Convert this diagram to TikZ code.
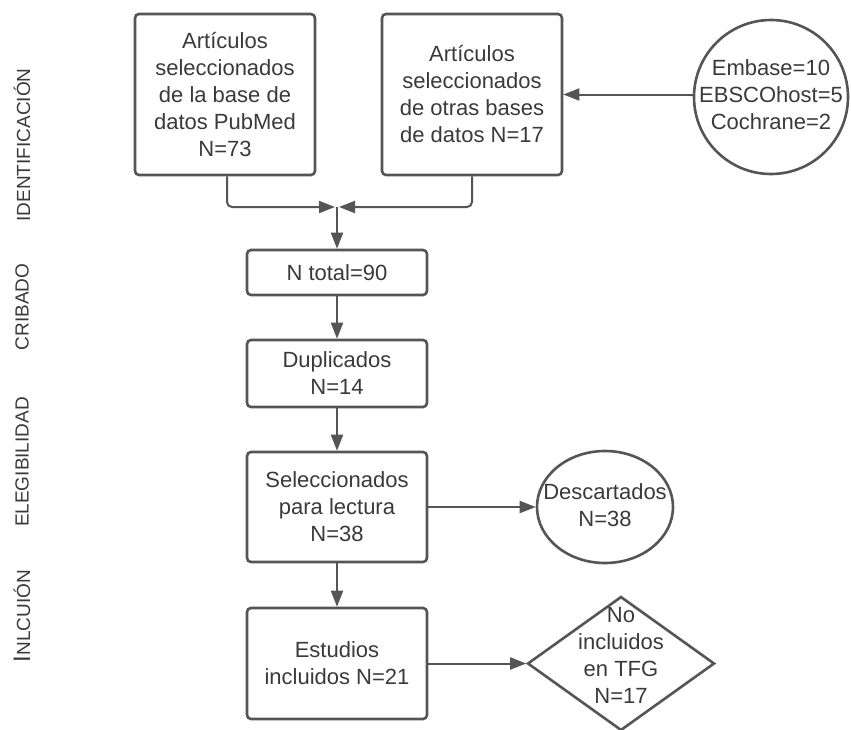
\documentclass[tikz,border=0pt]{standalone}
\usepackage{fontspec}
\setmainfont{Liberation Sans}
\usetikzlibrary{shapes.geometric,arrows.meta}
\definecolor{ln}{HTML}{555555}
\definecolor{tx}{HTML}{3A3A3A}
\begin{document}
\begin{tikzpicture}[x=1pt,y=-1pt,
  box/.style={draw=ln, line width=2.6pt, rounded corners=4pt, minimum width=180pt,
    inner sep=0pt, text=tx, font=\fontsize{22}{27}\selectfont, align=center},
  shp/.style={draw=ln, line width=2.6pt, inner sep=0pt},
  lab/.style={text=tx, font=\fontsize{22}{27}\selectfont, align=center, inner sep=0pt},
  side/.style={rotate=90, text=tx, font=\fontsize{19}{23}\selectfont, inner sep=0pt},
  conn/.style={draw=ln, line width=2pt, -{Triangle[length=16pt,width=12pt]}},
]
\useasboundingbox[fill=white] (0,0) rectangle (851,729);

% side labels
\node[side] (l1) at (22,145) {IDENTIFICACIÓN};
\node[side] (l2) at (22,307) {CRIBADO};
\node[side] (l3) at (22,462) {ELEGIBILIDAD};
\node[side] (l4) at (22,616) {{\fontsize{24}{24}\selectfont I}NLCUIÓN};

% boxes
\node[box, minimum height=161pt] (b1) at (225,94.5) {Artículos\\seleccionados\\de la base de\\datos PubMed\\N=73};
\node[box, minimum height=161pt] (b2) at (472,94.5) {Artículos\\seleccionados\\de otras bases\\de datos N=17};
\node[box, minimum height=45pt] (nt) at (337,272.5) {N total=90};
\node[box, minimum height=67pt] (dup) at (337,373.5) {Duplicados\\N=14};
\node[box, minimum height=110pt] (sel) at (337,507) {Seleccionados\\para lectura\\N=38};
\node[box, minimum height=111pt] (est) at (337,663.5) {Estudios\\incluidos N=21};

% other shapes
\node[shp, circle, minimum size=154pt] (circ) at (771,97) {};
\node[lab] (circt) at (771,95) {Embase=10\\EBSCOhost=5\\Cochrane=2};
\node[shp, ellipse, minimum width=136pt, minimum height=112pt] (desc) at (605,507) {};
\node[lab] (desct) at (605,505) {Descartados\\N=38};
\node[shp, diamond, minimum width=187pt, minimum height=134pt] (diam) at (621,663.5) {};
\node[lab] (diamt) at (621,655) {No\\incluidos\\en TFG\\N=17};

% connectors
\coordinate (jl) at (335,207);
\coordinate (jr) at (339,207);
\coordinate (jc) at (337,207);
\draw[conn, rounded corners=5pt] ([xshift=2pt]b1.south) |- (jl);
\draw[conn, rounded corners=5pt] (b2.south) |- (jr);
\draw[conn] (jc) -- (nt.north);
\draw[conn] (circ.west |- b2.east) -- (b2.east);
\draw[conn] (nt) -- (dup);
\draw[conn] (dup) -- (sel);
\draw[conn] (sel) -- (est);
\draw[conn] (sel.east) -- (desc.west);
\draw[conn] (est.east) -- (diam.west);
\end{tikzpicture}
\end{document}
